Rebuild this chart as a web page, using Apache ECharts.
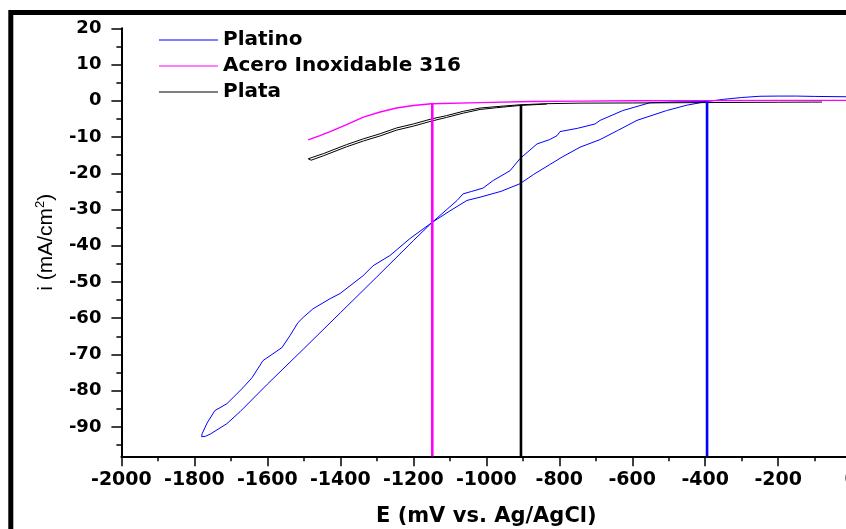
<!DOCTYPE html>
<html><head><meta charset="utf-8">
<script src="https://cdn.jsdelivr.net/npm/echarts@6/dist/echarts.min.js"></script>
<style>html,body{margin:0;padding:0;background:#fff;overflow:hidden}#c{width:846px;height:529px}</style>
</head><body><div id="c"></div>
<script>
// Tick values
const xTicks = [-2000, -1800, -1600, -1400, -1200, -1000, -800, -600, -400, -200, 0];
const yMajorTicks = [-90, -80, -70, -60, -50, -40, -30, -20, -10, 0, 10, 20];
const yMinorTicks = [-95, -85, -75, -65, -55, -45, -35, -25, -15, -5, 5, 15];

// Platino (E mV, i mA/cm2), traced along the loop
const platino = [
  [0, 1.1], [-50, 1.15], [-100, 1.2], [-150, 1.3], [-200, 1.3], [-250, 1.25], [-300, 0.9], [-350, 0.4], [-395, -0.2],
  [-450, -1.2], [-506, -2.7], [-587, -5.4], [-640, -8.2], [-688, -10.7], [-743, -12.8], [-790, -15.4], [-826, -17.6],
  [-870, -20.3], [-908, -22.9], [-960, -25.0], [-1017, -26.6], [-1053, -27.5], [-1100, -30.4], [-1149, -33.6],
  [-1209, -38.0], [-1264, -42.7], [-1310, -45.5], [-1338, -48.3], [-1401, -53.2], [-1428, -54.6], [-1475, -57.4],
  [-1502, -59.8], [-1516, -61.2], [-1538, -64.8], [-1560, -68.1], [-1612, -71.7], [-1642, -76.4], [-1667, -79.2],
  [-1694, -81.9], [-1711, -83.6], [-1744, -85.5], [-1765, -88.9], [-1779, -91.9], [-1780, -92.7],
  [-1770, -92.6], [-1757, -92.0], [-1711, -89.1], [-1675, -85.8], [-1600, -78.2], [-1500, -68.4], [-1400, -58.5],
  [-1300, -48.6], [-1200, -38.6], [-1149, -33.6], [-1080, -27.5], [-1064, -25.7], [-1040, -25.0], [-1009, -24.1],
  [-981, -22.0], [-935, -19.3], [-908, -16.0], [-861, -11.9], [-826, -10.7], [-806, -9.6], [-798, -8.5],
  [-750, -7.6], [-702, -6.4], [-688, -5.4], [-626, -2.7], [-552, -0.55], [-480, -0.3], [-395, -0.2]
];

// Acero Inoxidable 316
const acero = [
  [-1488, -10.8], [-1456, -9.6], [-1428, -8.5], [-1383, -6.6], [-1337, -4.5], [-1291, -3.1], [-1246, -2.0],
  [-1200, -1.3], [-1150, -0.8], [-1017, -0.5], [-880, -0.2], [-744, -0.1], [-600, 0], [-400, 0.05], [-200, 0.1], [0, 0.1]
];

// Plata (two close traces)
const plata = [
  [-80, -0.35], [-200, -0.4], [-400, -0.5], [-600, -0.6], [-743, -0.65], [-834, -0.8], [-908, -1.1], [-971, -1.6],
  [-1017, -2.0], [-1063, -2.9], [-1109, -4.1], [-1150, -5.0], [-1200, -6.4], [-1246, -7.5], [-1291, -9.1],
  [-1337, -10.5], [-1383, -12.1], [-1447, -14.6], [-1488, -16.0], [-1492, -16.3],
  [-1480, -16.4], [-1447, -15.2], [-1383, -12.7], [-1337, -11.1], [-1291, -9.7], [-1246, -8.1], [-1200, -7.0],
  [-1150, -5.6], [-1109, -4.6], [-1063, -3.4], [-1017, -2.4], [-971, -1.9], [-908, -1.3], [-834, -0.9]
];

// Vertical marker lines (E, top i)
const markerE = [-1148, -905, -395];
const markerTop = [-0.8, -1.1, -0.3];
const markerColors = ['#ff00ff', '#000000', '#0000ff'];

const yMin = -98.1, yMax = 20;
const FONT = 'DejaVu Sans';

const chart = echarts.init(document.getElementById('c'), null, {renderer: 'canvas'});

const markerSeries = markerE.map((e, k) => ({
  name: 'm' + k, type: 'line', symbol: 'none', silent: true, z: 3,
  lineStyle: {color: markerColors[k], width: 2.6},
  data: [[e, markerTop[k]], [e, yMin]]
}));

const gridBox = {left: 121.4, right: -5.2, top: 28.3, bottom: 72.7, containLabel: false, outerBoundsMode: 'none'};
const legendNames = ['Platino', 'Acero Inoxidable 316', 'Plata'];

chart.setOption({
  animation: false,
  backgroundColor: '#fff',
  grid: [Object.assign({}, gridBox), Object.assign({}, gridBox)],
  legend: {
    data: legendNames.map(n => ({name: n, icon: 'rect'})),
    orient: 'vertical', left: 159, top: 30, padding: 0,
    itemWidth: 59, itemHeight: 1.2, itemGap: 6,
    textStyle: {fontFamily: FONT, fontWeight: 'bold', fontSize: 20, color: '#000', lineHeight: 20}
  },
  xAxis: [{
    type: 'value', gridIndex: 0, min: -2000, max: 0, interval: 200,
    name: 'E (mV vs. Ag/AgCl)', nameLocation: 'middle', nameGap: 50,
    nameTextStyle: {fontFamily: FONT, fontWeight: 'bold', fontSize: 21, color: '#000'},
    axisLine: {show: true, onZero: false, lineStyle: {color: '#000', width: 2}},
    axisTick: {show: true, inside: false, length: 10, lineStyle: {color: '#000', width: 1.5}},
    minorTick: {show: true, splitNumber: 2, length: 5, lineStyle: {color: '#000', width: 1.5}},
    axisLabel: {fontFamily: FONT, fontWeight: 'bold', fontSize: 19, color: '#000', margin: 14,
      formatter: v => String(v)},
    splitLine: {show: false}
  }, {
    type: 'value', gridIndex: 1, min: -2000, max: 0, show: false
  }],
  yAxis: [{
    type: 'value', gridIndex: 0, min: yMin, max: yMax, position: 'left',
    name: '{a|i (mA/cm}{s|2}{a|)}', nameLocation: 'middle', nameGap: 64,
    nameTextStyle: {
      rich: {
        a: {fontFamily: 'Liberation Sans', fontSize: 21, color: '#000'},
        s: {fontFamily: 'Liberation Sans', fontSize: 13, color: '#000', verticalAlign: 'top', padding: [0, 0, 10, 0]}
      }
    },
    axisLine: {show: true, onZero: false, lineStyle: {color: '#000', width: 2}},
    axisTick: {show: true, length: 10, customValues: yMajorTicks, lineStyle: {color: '#000', width: 1.5}},
    axisLabel: {customValues: yMajorTicks, fontFamily: FONT, fontWeight: 'bold', fontSize: 18, color: '#000', margin: 20},
    splitLine: {show: false}
  }, {
    type: 'value', gridIndex: 1, min: yMin, max: yMax, position: 'left',
    axisLine: {show: false, onZero: false},
    axisTick: {show: true, length: 5, customValues: yMinorTicks, lineStyle: {color: '#000', width: 1.5}},
    axisLabel: {show: false, customValues: yMinorTicks},
    splitLine: {show: false}
  }],
  graphic: [{
    type: 'rect', silent: true, z: 100,
    shape: {x: 10.8, y: 12.5, width: 900, height: 600},
    style: {fill: 'none', stroke: '#000', lineWidth: 5}
  }],
  series: [
    {name: 'Platino', type: 'line', symbol: 'none', z: 2, lineStyle: {color: '#0000ff', width: 1}, itemStyle: {color: '#0000ff'}, data: platino},
    {name: 'Acero Inoxidable 316', type: 'line', symbol: 'none', z: 2, lineStyle: {color: '#ff00ff', width: 1.4}, itemStyle: {color: '#ff00ff'}, data: acero},
    {name: 'Plata', type: 'line', symbol: 'none', z: 2, lineStyle: {color: '#000000', width: 1}, itemStyle: {color: '#000000'}, data: plata}
  ].concat(markerSeries)
});
</script>
</body></html>
